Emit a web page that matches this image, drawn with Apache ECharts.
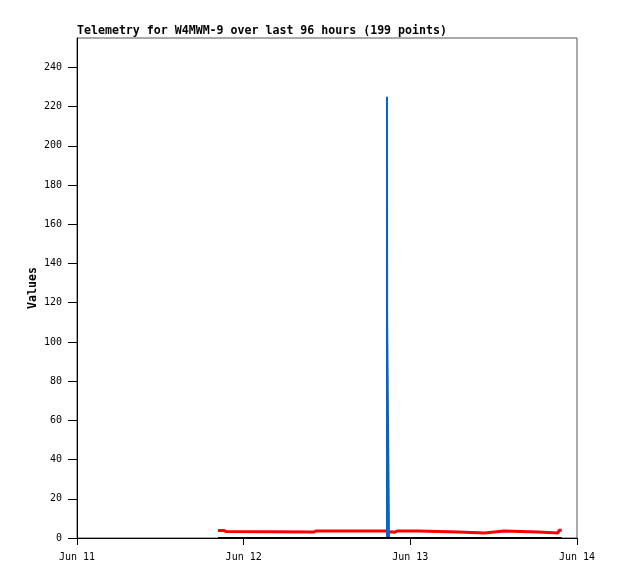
<!DOCTYPE html>
<html>
<head>
<meta charset="utf-8">
<script src="https://cdn.jsdelivr.net/npm/echarts@6/dist/echarts.min.js"></script>
<style>html,body{margin:0;padding:0;background:#fff;}#c{width:618px;height:579px;}</style>
</head>
<body>
<div id="c"></div>
<script>
// hours since Jun 11 00:00
const xTickHours = [0, 24, 48, 72];
const xTickLabels = ['Jun 11', 'Jun 12', 'Jun 13', 'Jun 14'];
const yTicks = [0, 20, 40, 60, 80, 100, 120, 140, 160, 180, 200, 220, 240];

const redHours  = [20.3, 20.5, 20.7, 20.9, 21.2, 21.5, 21.7, 34.1, 34.4, 44.5, 44.9, 45.3, 45.7, 46.0, 46.3, 49.1, 49.2, 54.9, 55.0, 58.7, 58.8, 61.5, 61.6, 66.4, 66.5, 69.3, 69.4, 69.8];
const redValues = [3.8, 3.2, 3.8, 3.2, 3.8, 3.3, 3.0, 3.0, 3.6, 3.6, 2.9, 3.2, 2.9, 3.4, 3.6, 3.6, 3.1, 3.1, 2.6, 2.6, 3.6, 3.6, 3.1, 3.1, 2.6, 2.6, 3.9, 3.9];

const blueHours  = [44.64, 44.64, 44.66, 44.66, 44.93, 44.93];
const blueValues = [0, 225, 225, 112, 112, 0];

const blackHours  = [20.3, 69.8];
const blackValues = [0, 0];

const zip = (a, b) => a.map((v, i) => [v, b[i]]);
const monoFont = '"DejaVu Sans Mono", "Liberation Mono", monospace';

const chart = echarts.init(document.getElementById('c'), null, {renderer: 'canvas'});
chart.setOption({
  animation: false,
  backgroundColor: '#fff',
  title: {
    text: 'Telemetry for W4MWM-9 over last 96 hours (199 points)',
    left: 77, top: 25, padding: 0,
    textStyle: {fontFamily: monoFont, fontWeight: 'bold', fontSize: 11.6, color: '#000'}
  },
  grid: {left: 77, right: 41, top: 38, bottom: 41, show: true, borderColor: '#555', borderWidth: 1, backgroundColor: 'transparent'},
  xAxis: {
    type: 'value', min: 0, max: 72, interval: 24,
    axisLine: {show: true, onZero: false, lineStyle: {color: '#000', width: 1}},
    axisTick: {show: true, length: 7, lineStyle: {color: '#000'}},
    axisLabel: {
      margin: 14, color: '#000', fontFamily: monoFont, fontSize: 10,
      formatter: v => { const i = xTickHours.indexOf(v); return i >= 0 ? xTickLabels[i] : ''; }
    },
    splitLine: {show: false}
  },
  yAxis: {
    type: 'value', min: 0, max: 255,
    name: 'Values', nameLocation: 'middle', nameGap: 38, nameRotate: 90, nameMoveOverlap: false,
    nameTextStyle: {fontFamily: monoFont, fontWeight: 'bold', fontSize: 11.6, color: '#000'},
    axisLine: {show: true, lineStyle: {color: '#000', width: 1}},
    axisTick: {show: true, length: 9, customValues: yTicks, lineStyle: {color: '#000'}},
    axisLabel: {margin: 15, color: '#000', fontFamily: monoFont, fontSize: 10, customValues: yTicks},
    splitLine: {show: false}
  },
  series: [
    {type: 'line', data: zip(redHours, redValues), showSymbol: false, clip: false,
     lineStyle: {color: '#ff0000', width: 3}, z: 2},
    {type: 'line', data: zip(blueHours, blueValues), showSymbol: false, clip: false,
     lineStyle: {color: '#0066cc', width: 2, join: 'miter', cap: 'butt'}, z: 3},
    {type: 'line', data: zip(blackHours, blackValues), showSymbol: false, clip: false,
     lineStyle: {color: '#000', width: 2}, z: 4}
  ]
});
</script>
</body>
</html>
